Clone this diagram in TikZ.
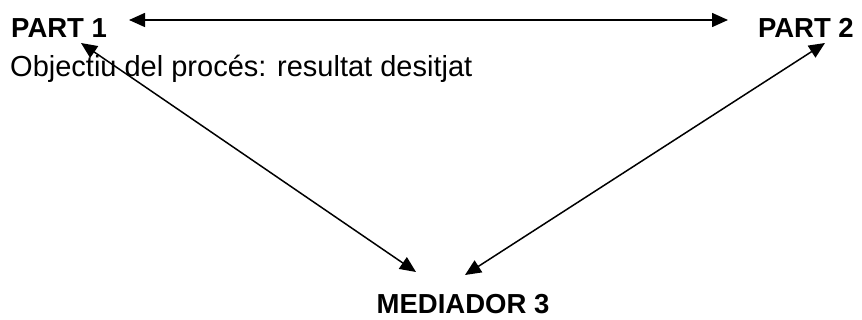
\documentclass[tikz,border=0pt]{standalone}
\usepackage{fontspec}
\setmainfont{Liberation Sans}
\usetikzlibrary{arrows.meta}
\begin{document}
\begin{tikzpicture}[x=1pt,y=-1pt,
  lbl/.style={inner sep=0pt,font=\fontsize{27.5}{32}\selectfont\bfseries},
  txt/.style={inner sep=0pt,font=\fontsize{29}{34}\selectfont},
  conn/.style={line width=1.5pt,{Triangle[length=16pt,width=14pt]}-{Triangle[length=16pt,width=14pt]}}]
\useasboundingbox (0,0) rectangle (862,320);
\node[lbl,anchor=base west] (p1) at (11,38) {PART 1};
\node[lbl,anchor=base east] (p2) at (854,38) {PART 2};
\node[txt,anchor=base west] (obj) at (10,77) {Objectiu del procés: resultat desitjat};
\node[lbl,anchor=base] (med) at (463,313) {MEDIADOR 3};
\coordinate (h1) at (129,20);
\coordinate (h2) at (728,20);
\coordinate (l1) at (81,43);
\coordinate (l2) at (416,272);
\coordinate (r1) at (825,43);
\coordinate (r2) at (465,275);
\draw[conn] (h1) -- (h2);
\draw[conn] (l1) -- (l2);
\draw[conn] (r1) -- (r2);
\end{tikzpicture}
\end{document}
